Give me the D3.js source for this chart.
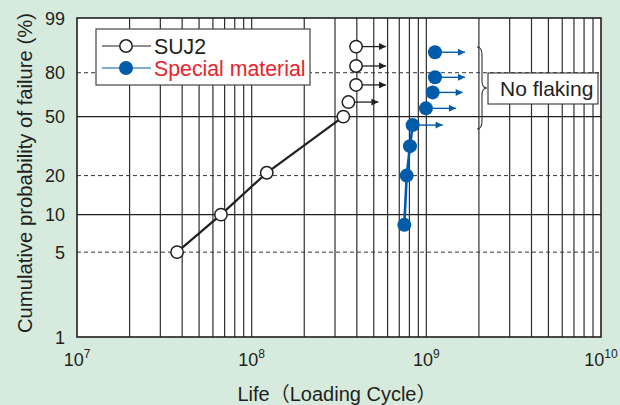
<!DOCTYPE html>
<html><head><meta charset="utf-8">
<script src="https://cdn.jsdelivr.net/npm/d3@7"></script>
<style>
html,body{margin:0;padding:0;background:#d6ebdd;}
svg{display:block;}
text{font-family:"Liberation Sans",Arial,"Noto Sans CJK JP",sans-serif;fill:#231f20;}
</style></head><body>
<svg id="c" width="620" height="405"></svg>
<script>
// ---- data ----
const xDecades = [1e7, 1e8, 1e9, 1e10];
const xExponents = ["7", "8", "9", "10"];
const yTicks = [1, 5, 10, 20, 50, 80, 99];
const ySolid = [10, 50];
const yDashed = [5, 20, 80];

const sujLife = [3.74e7, 6.67e7, 1.22e8, 3.35e8, 3.58e8, 3.96e8, 3.96e8, 3.96e8];
const sujProb = [5, 10, 21, 50, 60, 72, 84, 93];
const sujFailedCount = 4;          // first 4 points failed (joined by line)

const spLife = [7.48e8, 7.72e8, 8.06e8, 8.35e8, 9.95e8, 1.087e9, 1.121e9, 1.121e9];
const spProb = [8.3, 20, 32.5, 44.5, 55.6, 66.8, 77.1, 90.8];
const spLineCount = 4;             // first 4 points joined by line
const spArrowFrom = 3;             // arrows (no flaking) from index 3

const seriesNames = ["SUJ2", "Special material"];
const xTitle = "Life（Loading Cycle）";
const yTitle = "Cumulative probability of failure (%)";
const noteText = "No flaking";

// ---- layout ----
const L = 77, R = 601, T = 18, B = 337;
const svg = d3.select("#c");
const blue = "#005bab", red = "#e8242c", ink = "#231f20";

const weib = p => Math.log(-Math.log(1 - p / 100));
const x = d3.scaleLog().domain([1e7, 1e10]).range([L, R]);
const yl = d3.scaleLinear().domain([weib(1), weib(99)]).range([B, T]);
const y = p => yl(weib(p));

svg.append("rect").attr("x", L).attr("y", T).attr("width", R - L).attr("height", B - T).attr("fill", "#fff");

// vertical grid (all log minor ticks)
const minor = [];
for (let d = 7; d < 10; d++) for (let k = 1; k <= 9; k++) minor.push(k * Math.pow(10, d));
svg.append("g").selectAll("line").data(minor.filter(v => v > 1e7)).join("line")
  .attr("x1", d => x(d)).attr("x2", d => x(d)).attr("y1", T).attr("y2", B)
  .attr("stroke", "#2e2e2e").attr("stroke-width", 1.2);

// horizontal grid
svg.append("g").selectAll("line").data(ySolid).join("line")
  .attr("x1", L).attr("x2", R).attr("y1", d => y(d)).attr("y2", d => y(d))
  .attr("stroke", ink).attr("stroke-width", 1.2);
svg.append("g").selectAll("line").data(yDashed).join("line")
  .attr("x1", L).attr("x2", R).attr("y1", d => y(d)).attr("y2", d => y(d))
  .attr("stroke", "#333").attr("stroke-width", 1).attr("stroke-dasharray", "4,3");

// frame
svg.append("rect").attr("x", L).attr("y", T).attr("width", R - L).attr("height", B - T)
  .attr("fill", "none").attr("stroke", ink).attr("stroke-width", 1.6);

// y tick labels
svg.append("g").selectAll("text").data(yTicks).join("text")
  .attr("x", 65).attr("y", d => y(d) + 6.5).attr("text-anchor", "end")
  .attr("font-size", 18).text(d => d);

// x tick labels
const xt = svg.append("g").selectAll("text").data(xDecades).join("text")
  .attr("x", d => x(d)).attr("y", 366).attr("text-anchor", "middle").attr("font-size", 18);
xt.append("tspan").text("10");
xt.append("tspan").attr("dy", -8).attr("font-size", 12).text((d, i) => xExponents[i]);

// axis titles
svg.append("text").attr("x", 337).attr("y", 401).attr("text-anchor", "middle")
  .attr("font-size", 20).text(xTitle);
svg.append("text").attr("transform", "translate(32,173) rotate(-90)").attr("text-anchor", "middle")
  .attr("font-size", 20.3).text(yTitle);

// arrow markers
const defs = svg.append("defs");
function marker(id, color) {
  defs.append("marker").attr("id", id).attr("viewBox", "0 0 10 10").attr("refX", 10).attr("refY", 5)
    .attr("markerWidth", 9).attr("markerHeight", 7).attr("markerUnits", "userSpaceOnUse").attr("orient", "auto")
    .append("path").attr("d", "M0,0 L10,5 L0,10 Z").attr("fill", color);
}
marker("ak", ink); marker("ab", blue);

const suj = sujLife.map((v, i) => ({ v, p: sujProb[i], i }));
const sp = spLife.map((v, i) => ({ v, p: spProb[i], i }));
const line = d3.line().x(d => x(d.v)).y(d => y(d.p));

// SUJ2 line + arrows
svg.append("path").attr("d", line(suj.slice(0, sujFailedCount))).attr("fill", "none")
  .attr("stroke", ink).attr("stroke-width", 2.2);
svg.append("g").selectAll("line").data(suj.slice(sujFailedCount)).join("line")
  .attr("x1", d => x(d.v)).attr("x2", d => x(d.v) + 30).attr("y1", d => y(d.p)).attr("y2", d => y(d.p))
  .attr("stroke", ink).attr("stroke-width", 1.3).attr("marker-end", "url(#ak)");
svg.append("g").selectAll("circle").data(suj).join("circle")
  .attr("cx", d => x(d.v)).attr("cy", d => y(d.p)).attr("r", 6.2)
  .attr("fill", "#fff").attr("stroke", ink).attr("stroke-width", 1.5);

// Special material line + arrows
svg.append("path").attr("d", line(sp.slice(0, spLineCount))).attr("fill", "none")
  .attr("stroke", blue).attr("stroke-width", 2.6);
svg.append("g").selectAll("line").data(sp.slice(spArrowFrom)).join("line")
  .attr("x1", d => x(d.v)).attr("x2", d => x(d.v) + 30).attr("y1", d => y(d.p)).attr("y2", d => y(d.p))
  .attr("stroke", blue).attr("stroke-width", 1.4).attr("marker-end", "url(#ab)");
svg.append("g").selectAll("circle").data(sp).join("circle")
  .attr("cx", d => x(d.v)).attr("cy", d => y(d.p)).attr("r", 7).attr("fill", blue);

// legend
const lg = svg.append("g");
lg.append("rect").attr("x", 96).attr("y", 29).attr("width", 214).attr("height", 56)
  .attr("fill", "#fff").attr("stroke", "#444").attr("stroke-width", 1.2);
const rows = [{ c: ink, t: ink, open: true, yy: 46 }, { c: blue, t: red, open: false, yy: 68 }];
rows.forEach((r, i) => {
  lg.append("line").attr("x1", 102).attr("x2", 151).attr("y1", r.yy).attr("y2", r.yy)
    .attr("stroke", r.c).attr("stroke-width", 1.2);
  lg.append("circle").attr("cx", 126).attr("cy", r.yy).attr("r", r.open ? 6.2 : 7)
    .attr("fill", r.open ? "#fff" : blue).attr("stroke", r.open ? ink : "none").attr("stroke-width", 1.5);
  lg.append("text").attr("x", 154).attr("y", r.yy + 7.5).attr("font-size", 21.3)
    .style("fill", r.t).text(seriesNames[i]);
});

// brace + note
svg.append("path")
  .attr("d", "M477,47 Q482,47 482,55 L482,81 Q482,88 487,88 Q482,88 482,95 L482,121 Q482,129 477,129")
  .attr("fill", "none").attr("stroke", "#333").attr("stroke-width", 1.1);
svg.append("rect").attr("x", 488).attr("y", 73).attr("width", 110).attr("height", 31)
  .attr("fill", "#fff").attr("stroke", "#333").attr("stroke-width", 1.1);
svg.append("text").attr("x", 500).attr("y", 96).attr("font-size", 21).text(noteText);
</script>
</body></html>
